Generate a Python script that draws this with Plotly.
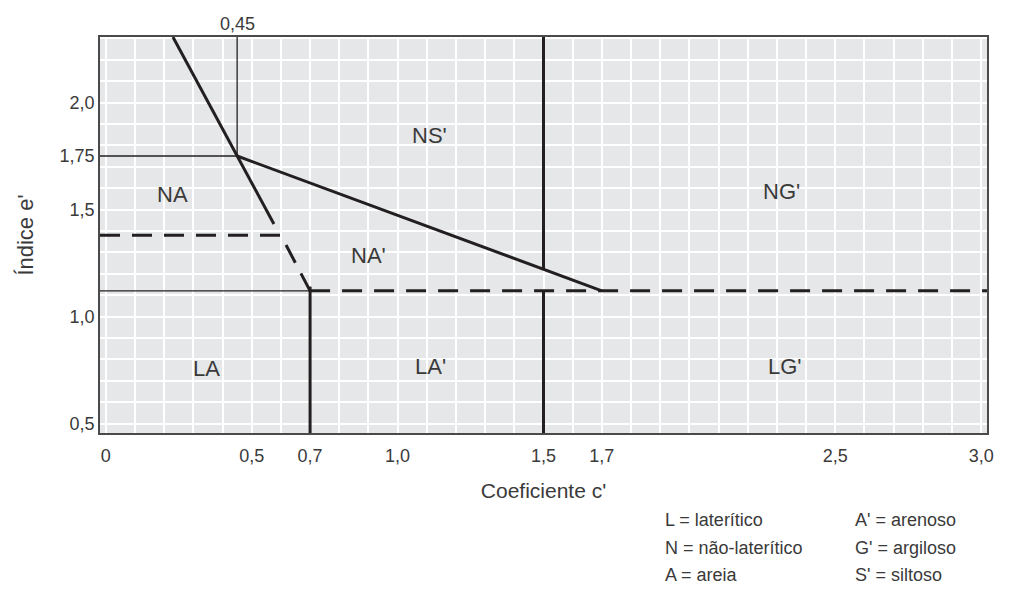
import plotly.graph_objects as go

# ---- axis extents / ticks ----
C_RANGE = [-0.02, 3.02]
E_RANGE = [0.456, 2.306]
x_tickvals = [0, 0.5, 0.7, 1.0, 1.5, 1.7, 2.5, 3.0]
x_ticktext = ["0", "0,5", "0,7", "1,0", "1,5", "1,7", "2,5", "3,0"]
y_tickvals = [0.5, 1.0, 1.5, 1.75, 2.0]
y_ticktext = ["0,5", "1,0", "1,5", "1,75", "2,0"]

# ---- boundary lines (c', e') ----
steep_c = [0.23, 0.45, 0.576]
steep_e = [2.306, 1.75, 1.432]
diag_c = [0.45, 1.70]
diag_e = [1.75, 1.12]
guide045_c = [0.45, 0.45]
guide045_e = [1.75, 2.306]
guide175_c = [-0.02, 0.45]
guide175_e = [1.75, 1.75]
v15_c = 1.5
v07_c = 0.7
e_split = 1.12          # L / N boundary
e_upper_dash = 1.38
upper_dash_corner_c = 0.6

# ---- region labels ----
region_text = ["NS'", "NA", "NG'", "NA'", "LA", "LA'", "LG'"]
region_c = [1.108, 0.227, 2.316, 0.90, 0.346, 1.111, 2.328]
region_e = [1.848, 1.568, 1.583, 1.287, 0.757, 0.765, 0.765]

# ---- key ----
key_col1 = ["L = laterítico", "N = não-laterítico", "A = areia"]
key_col2 = ["A' = arenoso", "G' = argiloso", "S' = siltoso"]

LINE = "#231f20"
TXT = "#3a3a3a"
FONT = "Liberation Sans, Arial, sans-serif"

fig = go.Figure()

def add_line(xs, ys, width, dash=None):
    fig.add_trace(go.Scatter(
        x=xs, y=ys, mode="lines", hoverinfo="skip", showlegend=False,
        line=dict(color=LINE, width=width, dash=dash)))

# thin guide lines
add_line(guide045_c, guide045_e, 1.3)
add_line(guide175_c, guide175_e, 1.3)
add_line([C_RANGE[0], v07_c], [e_split, e_split], 1.3)

# thick solid lines
add_line(steep_c, steep_e, 3)
add_line(diag_c, diag_e, 3)
e_at_15 = diag_e[0] + (diag_e[1] - diag_e[0]) * (v15_c - diag_c[0]) / (diag_c[1] - diag_c[0])
add_line([v15_c, v15_c], [E_RANGE[1], e_at_15], 3)
add_line([v15_c, v15_c], [e_split, E_RANGE[0]], 3)
add_line([v07_c, v07_c], [e_split + 0.02, E_RANGE[0]], 3)

# dashed lines
add_line([v07_c, C_RANGE[1]], [e_split, e_split], 3, dash="20px,12px")
add_line([C_RANGE[0], upper_dash_corner_c, v07_c],
         [e_upper_dash, e_upper_dash, e_split], 3, dash="20px,12px")

# region labels
for t, c, e in zip(region_text, region_c, region_e):
    fig.add_annotation(x=c, y=e, text=t, showarrow=False,
                       font=dict(family=FONT, size=22, color=TXT))

# 0,45 label on top
fig.add_annotation(x=0.45, y=1, xref="x", yref="paper", text="0,45",
                   showarrow=False, yanchor="bottom", yshift=1,
                   font=dict(family=FONT, size=18, color=TXT))

# key
rows_y = [-0.2197, -0.2904, -0.3586]
for t, yy in zip(key_col1, rows_y):
    fig.add_annotation(x=0.6347, y=yy, xref="paper", yref="paper", text=t,
                       showarrow=False, xanchor="left", yanchor="middle",
                       font=dict(family=FONT, size=18, color=TXT))
for t, yy in zip(key_col2, rows_y):
    fig.add_annotation(x=0.849, y=yy, xref="paper", yref="paper", text=t,
                       showarrow=False, xanchor="left", yanchor="middle",
                       font=dict(family=FONT, size=18, color=TXT))

fig.update_layout(
    width=1024, height=589, autosize=False,
    margin=dict(l=100, r=37, t=37, b=156),
    paper_bgcolor="white", plot_bgcolor="#e6e7e8",
    font=dict(family=FONT, color=TXT),
    xaxis=dict(
        range=C_RANGE, tickmode="array", tickvals=x_tickvals, ticktext=x_ticktext,
        showgrid=False, zeroline=False, ticks="", ticklabelstandoff=6,
        tickfont=dict(size=18, color=TXT),
        showline=True, mirror=True, linecolor="#4a4a4a", linewidth=1.5,
        minor=dict(tickmode="linear", tick0=0, dtick=0.1, showgrid=True,
                   gridcolor="white", gridwidth=2, ticks=""),
        title=dict(text="Coeficiente c'", font=dict(size=21, color=TXT), standoff=18),
    ),
    yaxis=dict(
        range=E_RANGE, tickmode="array", tickvals=y_tickvals, ticktext=y_ticktext,
        showgrid=False, zeroline=False, ticks="",
        tickfont=dict(size=18, color=TXT),
        showline=True, mirror=True, linecolor="#4a4a4a", linewidth=1.5,
        minor=dict(tickmode="linear", tick0=0, dtick=0.1, showgrid=True,
                   gridcolor="white", gridwidth=2, ticks=""),
        title=dict(text="Índice e'", font=dict(size=22, color=TXT), standoff=20),
    ),
)

fig.write_html(
    "out.html",
    config={"displayModeBar": False},
    post_script="document.body.style.margin='0';document.body.style.padding='0';"
                "document.body.style.overflow='hidden';",
)
